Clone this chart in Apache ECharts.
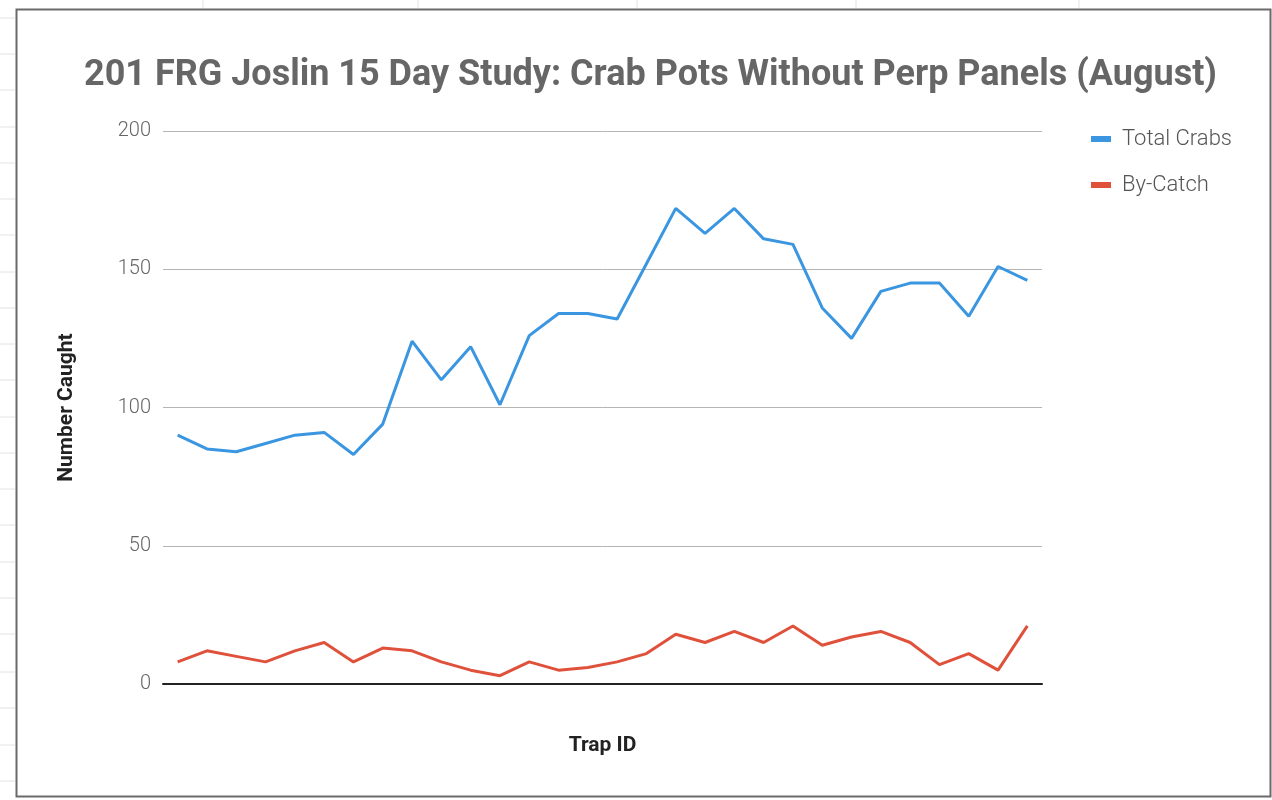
<!DOCTYPE html>
<html>
<head>
<meta charset="utf-8">
<script src="https://cdn.jsdelivr.net/npm/echarts@6/dist/echarts.min.js"></script>
<style>
  html, body { margin: 0; padding: 0; background: #ffffff; }
  #chart { width: 1272px; height: 800px; }
</style>
</head>
<body>
<div id="chart"></div>
<script>
const titleText = '201 FRG Joslin 15 Day Study: Crab Pots Without Perp Panels (August)';
const trapIds = ['1','2','3','4','5','6','7','8','9','10','11','12','13','14','15',
                 '16','17','18','19','20','21','22','23','24','25','26','27','28','29','30'];
const totalCrabs = [90, 85, 84, 87, 90, 91, 83, 94, 124, 110, 122, 101, 126, 134, 134,
                    132, 152, 172, 163, 172, 161, 159, 136, 125, 142, 145, 145, 133, 151, 146];
const byCatch = [8, 12, 10, 8, 12, 15, 8, 13, 12, 8, 5, 3, 8, 5, 6,
                 8, 11, 18, 15, 19, 15, 21, 14, 17, 19, 15, 7, 11, 5, 21];
const yTicks = { min: 0, max: 200, interval: 50 };

const chart = echarts.init(document.getElementById('chart'));

// faint spreadsheet cell lines outside the chart frame
const sheetLines = [];
for (const y of [18, 54, 90, 127, 163, 199, 235, 272, 308, 344, 380, 417, 453, 489, 525, 562, 598, 634, 672, 708, 745, 781]) {
  sheetLines.push({ type: 'line', shape: { x1: 0, y1: y, x2: 15, y2: y }, style: { stroke: '#e2e2e2', lineWidth: 1 }, silent: true });
}
for (const x of [203, 418, 637, 856, 1079]) {
  sheetLines.push({ type: 'line', shape: { x1: x, y1: 0, x2: x, y2: 8 }, style: { stroke: '#e2e2e2', lineWidth: 1 }, silent: true });
}

chart.setOption({
  backgroundColor: '#ffffff',
  animation: false,
  title: {
    text: titleText,
    left: 79,
    top: 53,
    textStyle: { fontFamily: 'Roboto', fontWeight: 'bold', fontSize: 36, color: '#666666' }
  },
  legend: {
    orient: 'vertical',
    left: 1086,
    top: 123,
    itemWidth: 20,
    itemHeight: 6,
    itemGap: 24,
    icon: 'rect',
    textStyle: { fontFamily: 'Roboto', fontWeight: 300, fontSize: 22, color: '#555555', lineHeight: 22, padding: [0, 0, 0, 6] },
    data: ['Total Crabs', 'By-Catch']
  },
  grid: { left: 163, right: 230, top: 131, bottom: 116, containLabel: false },
  xAxis: {
    type: 'category',
    data: trapIds,
    boundaryGap: true,
    name: 'Trap ID',
    nameLocation: 'middle',
    nameGap: 51,
    nameTextStyle: { fontFamily: 'Roboto', fontWeight: 'bold', fontSize: 21, color: '#222222' },
    axisLine: { show: true, lineStyle: { color: '#222222', width: 2 } },
    axisTick: { show: false },
    axisLabel: { show: false },
    splitLine: { show: false }
  },
  yAxis: {
    type: 'value',
    min: yTicks.min,
    max: yTicks.max,
    interval: yTicks.interval,
    name: 'Number Caught',
    nameLocation: 'middle',
    nameGap: 86,
    nameTextStyle: { fontFamily: 'Roboto', fontWeight: 'bold', fontSize: 21, color: '#222222' },
    axisLine: { show: false },
    axisTick: { show: false },
    axisLabel: { fontFamily: 'Roboto', fontWeight: 300, fontSize: 20, color: '#666666', margin: 12 },
    splitLine: { show: true, lineStyle: { color: '#b5b5b5', width: 1 } }
  },
  series: [
    {
      name: 'Total Crabs',
      type: 'line',
      data: totalCrabs,
      showSymbol: false,
      symbol: 'none',
      color: '#3a96e0',
      lineStyle: { width: 3, color: '#3a96e0' }
    },
    {
      name: 'By-Catch',
      type: 'line',
      data: byCatch,
      showSymbol: false,
      symbol: 'none',
      color: '#e0513c',
      lineStyle: { width: 3, color: '#e0513c' }
    }
  ],
  graphic: [
    ...sheetLines,
    {
      type: 'rect',
      shape: { x: 16.5, y: 9.5, width: 1254, height: 787 },
      style: { fill: null, stroke: '#6a6a6a', lineWidth: 2 },
      silent: true,
      z: 100
    }
  ]
});
</script>
</body>
</html>
